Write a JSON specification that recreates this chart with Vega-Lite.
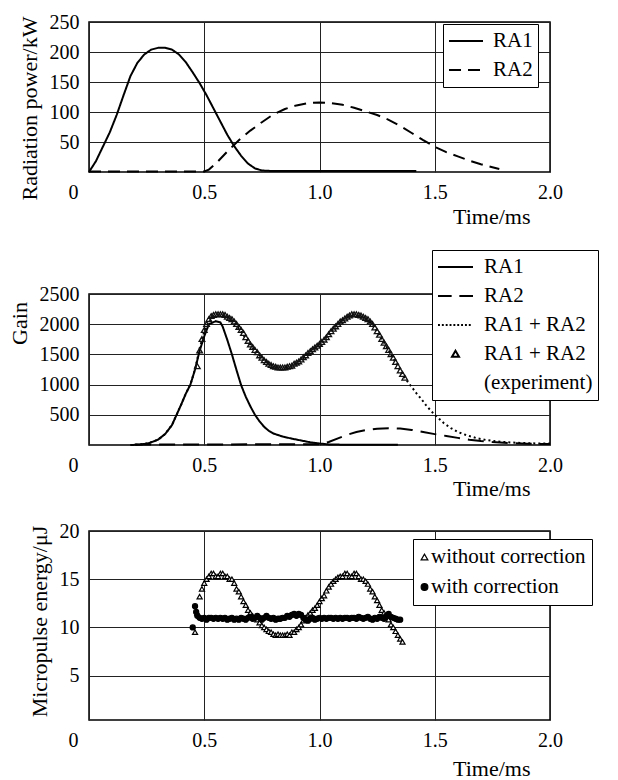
{
  "$schema": "https://vega.github.io/schema/vega-lite/v6.json",
  "padding": {"left": 7, "top": 11, "right": 5, "bottom": 5},
  "spacing": 20,
  "resolve": {
    "scale": {"shape": "independent", "strokeDash": "independent", "fill": "independent", "stroke": "independent"},
    "legend": {"shape": "independent", "strokeDash": "independent", "fill": "independent", "stroke": "independent"}
  },
  "config": {
    "font": "Liberation Serif, DejaVu Serif, serif",
    "view": {"stroke": "black", "strokeWidth": 1.5},
    "axis": {
      "labelFont": "Liberation Serif, DejaVu Serif, serif", "labelFontSize": 20, "labelColor": "black",
      "titleFont": "Liberation Serif, DejaVu Serif, serif", "titleFontSize": 22, "titleFontWeight": "normal", "titleColor": "black",
      "ticks": false, "domain": false, "gridColor": "#222222", "gridWidth": 1, "gridOpacity": 1,
      "labelPadding": 10, "labelFlush": false, "labelOverlap": false
    },
    "legend": {
      "labelFont": "Liberation Serif, DejaVu Serif, serif", "labelFontSize": 21, "labelColor": "black",
      "strokeColor": "black", "fillColor": "white", "title": null
    }
  },
  "datasets": {
    "a_lines": [
      {"t": 0.00, "v": 0, "s": "RA1"}, {"t": 0.03, "v": 18, "s": "RA1"}, {"t": 0.06, "v": 42, "s": "RA1"}, {"t": 0.09, "v": 66, "s": "RA1"},
      {"t": 0.12, "v": 95, "s": "RA1"}, {"t": 0.15, "v": 128, "s": "RA1"}, {"t": 0.18, "v": 160, "s": "RA1"}, {"t": 0.21, "v": 182, "s": "RA1"},
      {"t": 0.24, "v": 196, "s": "RA1"}, {"t": 0.27, "v": 204, "s": "RA1"}, {"t": 0.30, "v": 207, "s": "RA1"}, {"t": 0.33, "v": 207, "s": "RA1"},
      {"t": 0.36, "v": 204, "s": "RA1"}, {"t": 0.39, "v": 196, "s": "RA1"}, {"t": 0.42, "v": 183, "s": "RA1"}, {"t": 0.45, "v": 166, "s": "RA1"},
      {"t": 0.48, "v": 148, "s": "RA1"}, {"t": 0.51, "v": 128, "s": "RA1"}, {"t": 0.54, "v": 106, "s": "RA1"}, {"t": 0.57, "v": 84, "s": "RA1"},
      {"t": 0.60, "v": 62, "s": "RA1"}, {"t": 0.63, "v": 43, "s": "RA1"}, {"t": 0.66, "v": 27, "s": "RA1"}, {"t": 0.69, "v": 14, "s": "RA1"},
      {"t": 0.72, "v": 6, "s": "RA1"}, {"t": 0.75, "v": 2.5, "s": "RA1"}, {"t": 0.80, "v": 1.5, "s": "RA1"}, {"t": 1.00, "v": 1.5, "s": "RA1"},
      {"t": 1.20, "v": 1.5, "s": "RA1"}, {"t": 1.42, "v": 1.5, "s": "RA1"},
      {"t": 0.00, "v": 1, "s": "RA2"}, {"t": 0.50, "v": 1, "s": "RA2"}, {"t": 0.52, "v": 4, "s": "RA2"}, {"t": 0.55, "v": 14, "s": "RA2"},
      {"t": 0.60, "v": 34, "s": "RA2"}, {"t": 0.65, "v": 53, "s": "RA2"}, {"t": 0.70, "v": 69, "s": "RA2"}, {"t": 0.75, "v": 83, "s": "RA2"},
      {"t": 0.80, "v": 96, "s": "RA2"}, {"t": 0.85, "v": 105, "s": "RA2"}, {"t": 0.90, "v": 111, "s": "RA2"}, {"t": 0.95, "v": 115, "s": "RA2"},
      {"t": 1.00, "v": 116, "s": "RA2"}, {"t": 1.05, "v": 115, "s": "RA2"}, {"t": 1.10, "v": 112, "s": "RA2"}, {"t": 1.15, "v": 107, "s": "RA2"},
      {"t": 1.20, "v": 101, "s": "RA2"}, {"t": 1.25, "v": 95, "s": "RA2"}, {"t": 1.30, "v": 87, "s": "RA2"}, {"t": 1.35, "v": 77, "s": "RA2"},
      {"t": 1.40, "v": 65, "s": "RA2"}, {"t": 1.45, "v": 53, "s": "RA2"}, {"t": 1.50, "v": 42, "s": "RA2"}, {"t": 1.55, "v": 33, "s": "RA2"},
      {"t": 1.60, "v": 26, "s": "RA2"}, {"t": 1.65, "v": 19, "s": "RA2"}, {"t": 1.70, "v": 13, "s": "RA2"}, {"t": 1.75, "v": 8, "s": "RA2"},
      {"t": 1.78, "v": 5, "s": "RA2"}
    ],
    "b_lines": [
      {"t": 0.18, "v": 0, "s": "RA1"}, {"t": 0.22, "v": 6, "s": "RA1"}, {"t": 0.26, "v": 30, "s": "RA1"}, {"t": 0.30, "v": 90, "s": "RA1"},
      {"t": 0.33, "v": 180, "s": "RA1"}, {"t": 0.36, "v": 330, "s": "RA1"}, {"t": 0.38, "v": 500, "s": "RA1"}, {"t": 0.40, "v": 670, "s": "RA1"},
      {"t": 0.42, "v": 850, "s": "RA1"}, {"t": 0.44, "v": 1000, "s": "RA1"}, {"t": 0.46, "v": 1250, "s": "RA1"}, {"t": 0.48, "v": 1560, "s": "RA1"},
      {"t": 0.50, "v": 1800, "s": "RA1"}, {"t": 0.52, "v": 2000, "s": "RA1"}, {"t": 0.55, "v": 2050, "s": "RA1"}, {"t": 0.57, "v": 2030, "s": "RA1"},
      {"t": 0.58, "v": 1960, "s": "RA1"}, {"t": 0.60, "v": 1740, "s": "RA1"}, {"t": 0.62, "v": 1500, "s": "RA1"}, {"t": 0.64, "v": 1240, "s": "RA1"},
      {"t": 0.66, "v": 990, "s": "RA1"}, {"t": 0.68, "v": 800, "s": "RA1"}, {"t": 0.70, "v": 640, "s": "RA1"}, {"t": 0.72, "v": 500, "s": "RA1"},
      {"t": 0.74, "v": 390, "s": "RA1"}, {"t": 0.76, "v": 300, "s": "RA1"}, {"t": 0.78, "v": 235, "s": "RA1"}, {"t": 0.80, "v": 190, "s": "RA1"},
      {"t": 0.84, "v": 140, "s": "RA1"}, {"t": 0.88, "v": 105, "s": "RA1"}, {"t": 0.92, "v": 75, "s": "RA1"}, {"t": 0.96, "v": 45, "s": "RA1"},
      {"t": 1.00, "v": 25, "s": "RA1"}, {"t": 1.04, "v": 10, "s": "RA1"}, {"t": 1.10, "v": 5, "s": "RA1"}, {"t": 1.34, "v": 4, "s": "RA1"},
      {"t": 0.20, "v": 10, "s": "RA2"}, {"t": 0.60, "v": 10, "s": "RA2"}, {"t": 1.00, "v": 12, "s": "RA2"}, {"t": 1.04, "v": 50, "s": "RA2"},
      {"t": 1.08, "v": 110, "s": "RA2"}, {"t": 1.12, "v": 170, "s": "RA2"}, {"t": 1.16, "v": 215, "s": "RA2"}, {"t": 1.20, "v": 245, "s": "RA2"},
      {"t": 1.25, "v": 268, "s": "RA2"}, {"t": 1.30, "v": 278, "s": "RA2"}, {"t": 1.35, "v": 272, "s": "RA2"}, {"t": 1.40, "v": 250, "s": "RA2"},
      {"t": 1.45, "v": 215, "s": "RA2"}, {"t": 1.50, "v": 180, "s": "RA2"}, {"t": 1.55, "v": 150, "s": "RA2"}, {"t": 1.60, "v": 118, "s": "RA2"},
      {"t": 1.65, "v": 88, "s": "RA2"}, {"t": 1.70, "v": 65, "s": "RA2"}, {"t": 1.75, "v": 48, "s": "RA2"}, {"t": 1.80, "v": 36, "s": "RA2"},
      {"t": 1.85, "v": 28, "s": "RA2"}, {"t": 1.90, "v": 22, "s": "RA2"}, {"t": 1.95, "v": 18, "s": "RA2"}, {"t": 2.00, "v": 16, "s": "RA2"},
      {"t": 0.18, "v": 0, "s": "RA1 + RA2"}, {"t": 0.22, "v": 6, "s": "RA1 + RA2"}, {"t": 0.26, "v": 30, "s": "RA1 + RA2"}, {"t": 0.30, "v": 90, "s": "RA1 + RA2"},
      {"t": 0.33, "v": 180, "s": "RA1 + RA2"}, {"t": 0.36, "v": 330, "s": "RA1 + RA2"}, {"t": 0.38, "v": 500, "s": "RA1 + RA2"}, {"t": 0.40, "v": 670, "s": "RA1 + RA2"},
      {"t": 0.42, "v": 850, "s": "RA1 + RA2"}, {"t": 0.44, "v": 1000, "s": "RA1 + RA2"}, {"t": 0.46, "v": 1250, "s": "RA1 + RA2"}, {"t": 0.48, "v": 1600, "s": "RA1 + RA2"},
      {"t": 0.50, "v": 1880, "s": "RA1 + RA2"}, {"t": 0.52, "v": 2050, "s": "RA1 + RA2"}, {"t": 0.55, "v": 2140, "s": "RA1 + RA2"}, {"t": 0.58, "v": 2150, "s": "RA1 + RA2"},
      {"t": 0.61, "v": 2100, "s": "RA1 + RA2"}, {"t": 0.64, "v": 1980, "s": "RA1 + RA2"}, {"t": 0.67, "v": 1820, "s": "RA1 + RA2"}, {"t": 0.70, "v": 1660, "s": "RA1 + RA2"},
      {"t": 0.73, "v": 1520, "s": "RA1 + RA2"}, {"t": 0.76, "v": 1410, "s": "RA1 + RA2"}, {"t": 0.79, "v": 1330, "s": "RA1 + RA2"}, {"t": 0.82, "v": 1290, "s": "RA1 + RA2"},
      {"t": 0.85, "v": 1285, "s": "RA1 + RA2"}, {"t": 0.88, "v": 1310, "s": "RA1 + RA2"}, {"t": 0.91, "v": 1380, "s": "RA1 + RA2"}, {"t": 0.94, "v": 1470, "s": "RA1 + RA2"},
      {"t": 0.97, "v": 1570, "s": "RA1 + RA2"}, {"t": 1.00, "v": 1670, "s": "RA1 + RA2"}, {"t": 1.03, "v": 1780, "s": "RA1 + RA2"}, {"t": 1.06, "v": 1920, "s": "RA1 + RA2"},
      {"t": 1.09, "v": 2040, "s": "RA1 + RA2"}, {"t": 1.12, "v": 2120, "s": "RA1 + RA2"}, {"t": 1.15, "v": 2150, "s": "RA1 + RA2"}, {"t": 1.18, "v": 2130, "s": "RA1 + RA2"},
      {"t": 1.21, "v": 2070, "s": "RA1 + RA2"}, {"t": 1.24, "v": 1940, "s": "RA1 + RA2"}, {"t": 1.27, "v": 1760, "s": "RA1 + RA2"}, {"t": 1.30, "v": 1570, "s": "RA1 + RA2"},
      {"t": 1.33, "v": 1370, "s": "RA1 + RA2"}, {"t": 1.36, "v": 1170, "s": "RA1 + RA2"}, {"t": 1.38, "v": 1060, "s": "RA1 + RA2"}, {"t": 1.40, "v": 960, "s": "RA1 + RA2"},
      {"t": 1.42, "v": 860, "s": "RA1 + RA2"}, {"t": 1.44, "v": 770, "s": "RA1 + RA2"}, {"t": 1.46, "v": 670, "s": "RA1 + RA2"}, {"t": 1.48, "v": 580, "s": "RA1 + RA2"},
      {"t": 1.50, "v": 500, "s": "RA1 + RA2"}, {"t": 1.52, "v": 430, "s": "RA1 + RA2"}, {"t": 1.54, "v": 360, "s": "RA1 + RA2"}, {"t": 1.57, "v": 280, "s": "RA1 + RA2"},
      {"t": 1.60, "v": 215, "s": "RA1 + RA2"}, {"t": 1.64, "v": 160, "s": "RA1 + RA2"}, {"t": 1.68, "v": 115, "s": "RA1 + RA2"}, {"t": 1.72, "v": 85, "s": "RA1 + RA2"},
      {"t": 1.76, "v": 65, "s": "RA1 + RA2"}, {"t": 1.80, "v": 50, "s": "RA1 + RA2"}, {"t": 1.85, "v": 38, "s": "RA1 + RA2"}, {"t": 1.90, "v": 30, "s": "RA1 + RA2"},
      {"t": 1.95, "v": 25, "s": "RA1 + RA2"}, {"t": 2.00, "v": 25, "s": "RA1 + RA2"}
    ],
    "b_exp": [
      {"t": 0.47, "v": 1300}, {"t": 0.48, "v": 1560}, {"t": 0.49, "v": 1750}, {"t": 0.50, "v": 1900}, {"t": 0.51, "v": 2000},
      {"t": 0.52, "v": 2080}, {"t": 0.53, "v": 2130}, {"t": 0.54, "v": 2150}, {"t": 0.55, "v": 2160}, {"t": 0.56, "v": 2160},
      {"t": 0.57, "v": 2160}, {"t": 0.58, "v": 2160}, {"t": 0.59, "v": 2150}, {"t": 0.60, "v": 2120}, {"t": 0.61, "v": 2100},
      {"t": 0.62, "v": 2080}, {"t": 0.63, "v": 2040}, {"t": 0.64, "v": 2000}, {"t": 0.65, "v": 1950}, {"t": 0.66, "v": 1900},
      {"t": 0.67, "v": 1850}, {"t": 0.68, "v": 1780}, {"t": 0.69, "v": 1720}, {"t": 0.70, "v": 1660}, {"t": 0.71, "v": 1620},
      {"t": 0.72, "v": 1570}, {"t": 0.73, "v": 1530}, {"t": 0.74, "v": 1480}, {"t": 0.75, "v": 1440}, {"t": 0.76, "v": 1400},
      {"t": 0.77, "v": 1370}, {"t": 0.78, "v": 1340}, {"t": 0.79, "v": 1320}, {"t": 0.80, "v": 1300}, {"t": 0.81, "v": 1290},
      {"t": 0.82, "v": 1280}, {"t": 0.83, "v": 1280}, {"t": 0.84, "v": 1280}, {"t": 0.85, "v": 1280}, {"t": 0.86, "v": 1290},
      {"t": 0.87, "v": 1300}, {"t": 0.88, "v": 1310}, {"t": 0.89, "v": 1340}, {"t": 0.90, "v": 1360}, {"t": 0.91, "v": 1380},
      {"t": 0.92, "v": 1410}, {"t": 0.93, "v": 1450}, {"t": 0.94, "v": 1480}, {"t": 0.95, "v": 1520}, {"t": 0.96, "v": 1550},
      {"t": 0.97, "v": 1580}, {"t": 0.98, "v": 1610}, {"t": 0.99, "v": 1640}, {"t": 1.00, "v": 1670}, {"t": 1.01, "v": 1700},
      {"t": 1.02, "v": 1740}, {"t": 1.03, "v": 1780}, {"t": 1.04, "v": 1830}, {"t": 1.05, "v": 1880}, {"t": 1.06, "v": 1920},
      {"t": 1.07, "v": 1960}, {"t": 1.08, "v": 2000}, {"t": 1.09, "v": 2040}, {"t": 1.10, "v": 2060}, {"t": 1.11, "v": 2090},
      {"t": 1.12, "v": 2120}, {"t": 1.13, "v": 2140}, {"t": 1.14, "v": 2160}, {"t": 1.15, "v": 2160}, {"t": 1.16, "v": 2160},
      {"t": 1.17, "v": 2150}, {"t": 1.18, "v": 2140}, {"t": 1.19, "v": 2120}, {"t": 1.20, "v": 2100}, {"t": 1.21, "v": 2080},
      {"t": 1.22, "v": 2040}, {"t": 1.23, "v": 2000}, {"t": 1.24, "v": 1940}, {"t": 1.25, "v": 1880}, {"t": 1.26, "v": 1820},
      {"t": 1.27, "v": 1750}, {"t": 1.28, "v": 1690}, {"t": 1.29, "v": 1630}, {"t": 1.30, "v": 1570}, {"t": 1.31, "v": 1500},
      {"t": 1.32, "v": 1440}, {"t": 1.33, "v": 1370}, {"t": 1.34, "v": 1300}, {"t": 1.35, "v": 1230}, {"t": 1.36, "v": 1170},
      {"t": 1.37, "v": 1110}
    ],
    "c_pts": [
      {"t": 0.46, "v": 9.5, "s": "without correction"}, {"t": 0.47, "v": 11.5, "s": "without correction"}, {"t": 0.48, "v": 13.2, "s": "without correction"},
      {"t": 0.49, "v": 14.0, "s": "without correction"}, {"t": 0.50, "v": 14.6, "s": "without correction"}, {"t": 0.51, "v": 15.0, "s": "without correction"},
      {"t": 0.52, "v": 15.3, "s": "without correction"}, {"t": 0.53, "v": 15.6, "s": "without correction"}, {"t": 0.54, "v": 15.6, "s": "without correction"},
      {"t": 0.55, "v": 15.3, "s": "without correction"}, {"t": 0.56, "v": 15.3, "s": "without correction"}, {"t": 0.57, "v": 15.6, "s": "without correction"},
      {"t": 0.58, "v": 15.6, "s": "without correction"}, {"t": 0.59, "v": 15.3, "s": "without correction"}, {"t": 0.60, "v": 15.3, "s": "without correction"},
      {"t": 0.61, "v": 15.0, "s": "without correction"}, {"t": 0.62, "v": 15.0, "s": "without correction"}, {"t": 0.63, "v": 14.6, "s": "without correction"},
      {"t": 0.64, "v": 14.0, "s": "without correction"}, {"t": 0.65, "v": 13.7, "s": "without correction"}, {"t": 0.66, "v": 13.2, "s": "without correction"},
      {"t": 0.67, "v": 12.7, "s": "without correction"}, {"t": 0.68, "v": 12.3, "s": "without correction"}, {"t": 0.69, "v": 11.8, "s": "without correction"},
      {"t": 0.70, "v": 11.5, "s": "without correction"}, {"t": 0.71, "v": 11.2, "s": "without correction"}, {"t": 0.72, "v": 11.0, "s": "without correction"},
      {"t": 0.73, "v": 10.8, "s": "without correction"}, {"t": 0.74, "v": 10.5, "s": "without correction"}, {"t": 0.75, "v": 10.2, "s": "without correction"},
      {"t": 0.76, "v": 10.0, "s": "without correction"}, {"t": 0.77, "v": 9.8, "s": "without correction"}, {"t": 0.78, "v": 9.6, "s": "without correction"},
      {"t": 0.79, "v": 9.5, "s": "without correction"}, {"t": 0.80, "v": 9.3, "s": "without correction"}, {"t": 0.81, "v": 9.2, "s": "without correction"},
      {"t": 0.82, "v": 9.3, "s": "without correction"}, {"t": 0.83, "v": 9.2, "s": "without correction"}, {"t": 0.84, "v": 9.2, "s": "without correction"},
      {"t": 0.85, "v": 9.2, "s": "without correction"}, {"t": 0.86, "v": 9.3, "s": "without correction"}, {"t": 0.87, "v": 9.2, "s": "without correction"},
      {"t": 0.88, "v": 9.5, "s": "without correction"}, {"t": 0.89, "v": 9.5, "s": "without correction"}, {"t": 0.90, "v": 9.8, "s": "without correction"},
      {"t": 0.91, "v": 10.0, "s": "without correction"}, {"t": 0.92, "v": 10.3, "s": "without correction"}, {"t": 0.93, "v": 10.7, "s": "without correction"},
      {"t": 0.94, "v": 11.0, "s": "without correction"}, {"t": 0.95, "v": 11.3, "s": "without correction"}, {"t": 0.96, "v": 11.5, "s": "without correction"},
      {"t": 0.97, "v": 11.8, "s": "without correction"}, {"t": 0.98, "v": 12.0, "s": "without correction"}, {"t": 0.99, "v": 12.3, "s": "without correction"},
      {"t": 1.00, "v": 12.7, "s": "without correction"}, {"t": 1.01, "v": 13.0, "s": "without correction"}, {"t": 1.02, "v": 13.3, "s": "without correction"},
      {"t": 1.03, "v": 13.8, "s": "without correction"}, {"t": 1.04, "v": 14.2, "s": "without correction"}, {"t": 1.05, "v": 14.5, "s": "without correction"},
      {"t": 1.06, "v": 14.8, "s": "without correction"}, {"t": 1.07, "v": 15.0, "s": "without correction"}, {"t": 1.08, "v": 15.2, "s": "without correction"},
      {"t": 1.09, "v": 15.3, "s": "without correction"}, {"t": 1.10, "v": 15.3, "s": "without correction"}, {"t": 1.11, "v": 15.6, "s": "without correction"},
      {"t": 1.12, "v": 15.6, "s": "without correction"}, {"t": 1.13, "v": 15.3, "s": "without correction"}, {"t": 1.14, "v": 15.3, "s": "without correction"},
      {"t": 1.15, "v": 15.6, "s": "without correction"}, {"t": 1.16, "v": 15.6, "s": "without correction"}, {"t": 1.17, "v": 15.3, "s": "without correction"},
      {"t": 1.18, "v": 15.0, "s": "without correction"}, {"t": 1.19, "v": 15.0, "s": "without correction"}, {"t": 1.20, "v": 14.8, "s": "without correction"},
      {"t": 1.21, "v": 14.5, "s": "without correction"}, {"t": 1.22, "v": 14.0, "s": "without correction"}, {"t": 1.23, "v": 13.7, "s": "without correction"},
      {"t": 1.24, "v": 13.2, "s": "without correction"}, {"t": 1.25, "v": 12.8, "s": "without correction"}, {"t": 1.26, "v": 12.3, "s": "without correction"},
      {"t": 1.27, "v": 11.8, "s": "without correction"}, {"t": 1.28, "v": 11.5, "s": "without correction"}, {"t": 1.29, "v": 11.2, "s": "without correction"},
      {"t": 1.30, "v": 10.8, "s": "without correction"}, {"t": 1.31, "v": 10.3, "s": "without correction"}, {"t": 1.32, "v": 10.0, "s": "without correction"},
      {"t": 1.33, "v": 9.6, "s": "without correction"}, {"t": 1.34, "v": 9.2, "s": "without correction"}, {"t": 1.35, "v": 8.8, "s": "without correction"},
      {"t": 1.36, "v": 8.5, "s": "without correction"},
      {"t": 0.45, "v": 10.0, "s": "with correction"}, {"t": 0.46, "v": 12.2, "s": "with correction"}, {"t": 0.465, "v": 11.6, "s": "with correction"},
      {"t": 0.47, "v": 11.2, "s": "with correction"}, {"t": 0.48, "v": 11.0, "s": "with correction"}, {"t": 0.49, "v": 10.9, "s": "with correction"},
      {"t": 0.50, "v": 11.0, "s": "with correction"}, {"t": 0.51, "v": 10.8, "s": "with correction"}, {"t": 0.52, "v": 11.0, "s": "with correction"},
      {"t": 0.53, "v": 11.0, "s": "with correction"}, {"t": 0.54, "v": 10.9, "s": "with correction"}, {"t": 0.55, "v": 11.0, "s": "with correction"},
      {"t": 0.56, "v": 10.9, "s": "with correction"}, {"t": 0.57, "v": 11.0, "s": "with correction"}, {"t": 0.58, "v": 10.9, "s": "with correction"},
      {"t": 0.59, "v": 11.0, "s": "with correction"}, {"t": 0.60, "v": 10.8, "s": "with correction"}, {"t": 0.61, "v": 10.9, "s": "with correction"},
      {"t": 0.62, "v": 11.0, "s": "with correction"}, {"t": 0.63, "v": 10.8, "s": "with correction"}, {"t": 0.64, "v": 10.9, "s": "with correction"},
      {"t": 0.65, "v": 10.8, "s": "with correction"}, {"t": 0.66, "v": 11.0, "s": "with correction"}, {"t": 0.67, "v": 10.9, "s": "with correction"},
      {"t": 0.68, "v": 10.8, "s": "with correction"}, {"t": 0.69, "v": 11.0, "s": "with correction"}, {"t": 0.70, "v": 11.1, "s": "with correction"},
      {"t": 0.71, "v": 10.9, "s": "with correction"}, {"t": 0.72, "v": 11.0, "s": "with correction"}, {"t": 0.73, "v": 11.2, "s": "with correction"},
      {"t": 0.74, "v": 11.0, "s": "with correction"}, {"t": 0.75, "v": 10.8, "s": "with correction"}, {"t": 0.76, "v": 11.0, "s": "with correction"},
      {"t": 0.77, "v": 11.2, "s": "with correction"}, {"t": 0.78, "v": 11.0, "s": "with correction"}, {"t": 0.79, "v": 10.9, "s": "with correction"},
      {"t": 0.80, "v": 11.0, "s": "with correction"}, {"t": 0.81, "v": 10.8, "s": "with correction"}, {"t": 0.82, "v": 10.9, "s": "with correction"},
      {"t": 0.83, "v": 10.9, "s": "with correction"}, {"t": 0.84, "v": 11.0, "s": "with correction"}, {"t": 0.85, "v": 11.0, "s": "with correction"},
      {"t": 0.86, "v": 11.2, "s": "with correction"}, {"t": 0.87, "v": 11.1, "s": "with correction"}, {"t": 0.88, "v": 11.3, "s": "with correction"},
      {"t": 0.89, "v": 11.4, "s": "with correction"}, {"t": 0.90, "v": 11.2, "s": "with correction"}, {"t": 0.91, "v": 11.4, "s": "with correction"},
      {"t": 0.92, "v": 11.3, "s": "with correction"}, {"t": 0.93, "v": 11.0, "s": "with correction"}, {"t": 0.94, "v": 10.8, "s": "with correction"},
      {"t": 0.95, "v": 10.7, "s": "with correction"}, {"t": 0.96, "v": 10.9, "s": "with correction"}, {"t": 0.97, "v": 11.0, "s": "with correction"},
      {"t": 0.98, "v": 10.8, "s": "with correction"}, {"t": 0.99, "v": 10.9, "s": "with correction"}, {"t": 1.00, "v": 11.0, "s": "with correction"},
      {"t": 1.01, "v": 10.9, "s": "with correction"}, {"t": 1.02, "v": 11.0, "s": "with correction"}, {"t": 1.03, "v": 10.9, "s": "with correction"},
      {"t": 1.04, "v": 11.0, "s": "with correction"}, {"t": 1.05, "v": 11.0, "s": "with correction"}, {"t": 1.06, "v": 10.9, "s": "with correction"},
      {"t": 1.07, "v": 11.0, "s": "with correction"}, {"t": 1.08, "v": 10.9, "s": "with correction"}, {"t": 1.09, "v": 11.0, "s": "with correction"},
      {"t": 1.10, "v": 10.9, "s": "with correction"}, {"t": 1.11, "v": 11.0, "s": "with correction"}, {"t": 1.12, "v": 11.0, "s": "with correction"},
      {"t": 1.13, "v": 10.9, "s": "with correction"}, {"t": 1.14, "v": 11.0, "s": "with correction"}, {"t": 1.15, "v": 11.0, "s": "with correction"},
      {"t": 1.16, "v": 10.9, "s": "with correction"}, {"t": 1.17, "v": 11.1, "s": "with correction"}, {"t": 1.18, "v": 11.0, "s": "with correction"},
      {"t": 1.19, "v": 10.9, "s": "with correction"}, {"t": 1.20, "v": 11.0, "s": "with correction"}, {"t": 1.21, "v": 11.1, "s": "with correction"},
      {"t": 1.22, "v": 10.9, "s": "with correction"}, {"t": 1.23, "v": 10.8, "s": "with correction"}, {"t": 1.24, "v": 11.0, "s": "with correction"},
      {"t": 1.25, "v": 10.9, "s": "with correction"}, {"t": 1.26, "v": 11.1, "s": "with correction"}, {"t": 1.27, "v": 11.0, "s": "with correction"},
      {"t": 1.28, "v": 10.9, "s": "with correction"}, {"t": 1.29, "v": 11.2, "s": "with correction"}, {"t": 1.30, "v": 11.4, "s": "with correction"},
      {"t": 1.31, "v": 11.1, "s": "with correction"}, {"t": 1.32, "v": 11.0, "s": "with correction"}, {"t": 1.33, "v": 10.9, "s": "with correction"},
      {"t": 1.34, "v": 10.8, "s": "with correction"}, {"t": 1.35, "v": 10.8, "s": "with correction"}
    ]
  },
  "vconcat": [
    {
      "width": 461, "height": 150,
      "layer": [
        {
          "data": {"name": "a_lines"},
          "mark": {"type": "line", "color": "black", "strokeWidth": 2},
          "encoding": {
            "x": {"field": "t", "type": "quantitative", "scale": {"domain": [0, 2], "nice": false, "zero": false},
              "axis": {"values": [0, 0.5, 1, 1.5, 2], "labelExpr": "datum.value == 0 ? '0' : format(datum.value, '.1f')", "labelOverlap": false,
                "labelOffset": {"condition": {"test": "datum.value == 0", "value": -16}, "value": 0},
                "title": "Time/ms", "titleX": 441, "titleY": 44, "titleAlign": "right", "titleBaseline": "middle", "titleAngle": 0}},
            "y": {"field": "v", "type": "quantitative", "scale": {"domain": [0, 250], "nice": false, "zero": false},
              "axis": {"values": [50, 100, 150, 200, 250], "format": "d", "labelOverlap": false, "title": "Radiation power/kW", "titleY": 86, "titlePadding": 8}},
            "strokeDash": {"field": "s", "type": "nominal",
              "scale": {"domain": ["RA1", "RA2"], "range": [[1, 0], [12, 7]]},
              "legend": {"orient": "none", "legendX": 354, "legendY": 2, "symbolType": "stroke", "symbolSize": 1156,
                "symbolStrokeWidth": 2, "symbolStrokeColor": "black", "labelOffset": 9, "padding": 5, "rowPadding": 5, "clipHeight": 24}}
          }
        },
        {
          "mark": {"type": "text", "align": "left", "baseline": "alphabetic", "fontSize": 21, "font": "Liberation Serif, DejaVu Serif, serif", "color": "black"},
          "encoding": {
            "x": {"datum": 0.033, "type": "quantitative", "scale": {"domain": [0, 2], "nice": false, "zero": false},
              "axis": {"values": [0, 0.5, 1, 1.5, 2], "labelExpr": "datum.value == 0 ? '0' : format(datum.value, '.1f')", "labelOverlap": false,
                "labelOffset": {"condition": {"test": "datum.value == 0", "value": -16}, "value": 0},
                "title": "Time/ms", "titleX": 441, "titleY": 44, "titleAlign": "right", "titleBaseline": "middle", "titleAngle": 0}},
            "y": {"datum": 217, "type": "quantitative", "scale": {"domain": [0, 250], "nice": false, "zero": false},
              "axis": {"values": [50, 100, 150, 200, 250], "format": "d", "labelOverlap": false, "title": "Radiation power/kW", "titleY": 86, "titlePadding": 8}},
            "text": {"value": "a"}
          }
        }
      ]
    },
    {
      "width": 461, "height": 151,
      "layer": [
        {
          "data": {"name": "b_lines"},
          "mark": {"type": "line", "color": "black", "strokeWidth": 2},
          "encoding": {
            "x": {"field": "t", "type": "quantitative", "scale": {"domain": [0, 2], "nice": false, "zero": false},
              "axis": {"values": [0, 0.5, 1, 1.5, 2], "labelExpr": "datum.value == 0 ? '0' : format(datum.value, '.1f')", "labelOverlap": false,
                "labelOffset": {"condition": {"test": "datum.value == 0", "value": -16}, "value": 0},
                "title": "Time/ms", "titleX": 441, "titleY": 43, "titleAlign": "right", "titleBaseline": "middle", "titleAngle": 0}},
            "y": {"field": "v", "type": "quantitative", "scale": {"domain": [0, 2500], "nice": false, "zero": false},
              "axis": {"values": [500, 1000, 1500, 2000, 2500], "format": "d", "labelOverlap": false, "title": "Gain", "titleY": 29, "titlePadding": 8}},
            "strokeDash": {"field": "s", "type": "nominal",
              "scale": {"domain": ["RA1", "RA2", "RA1 + RA2"], "range": [[1, 0], [16, 8], [2, 3]]}, "legend": null}
          }
        },
        {
          "data": {"name": "b_exp"},
          "mark": {"type": "point", "filled": false, "stroke": "#111111", "strokeWidth": 1.3, "size": 800, "opacity": 1},
          "encoding": {
            "x": {"field": "t", "type": "quantitative", "scale": {"domain": [0, 2], "nice": false, "zero": false},
              "axis": {"values": [0, 0.5, 1, 1.5, 2], "labelExpr": "datum.value == 0 ? '0' : format(datum.value, '.1f')", "labelOverlap": false,
                "labelOffset": {"condition": {"test": "datum.value == 0", "value": -16}, "value": 0},
                "title": "Time/ms", "titleX": 441, "titleY": 43, "titleAlign": "right", "titleBaseline": "middle", "titleAngle": 0}},
            "y": {"field": "v", "type": "quantitative", "scale": {"domain": [0, 2500], "nice": false, "zero": false},
              "axis": {"values": [500, 1000, 1500, 2000, 2500], "format": "d", "labelOverlap": false, "title": "Gain", "titleY": 29, "titlePadding": 8}},
            "shape": {"datum": "RA1 + RA2 (experiment)", "type": "nominal",
              "scale": {"domain": ["RA1", "RA2", "RA1 + RA2", "RA1 + RA2 (experiment)", "(experiment)"],
                "range": ["M-1,0H1", "M-1,0H-0.22M0.22,0H1",
                  "M-1,0H-0.89M-0.78,0H-0.67M-0.56,0H-0.45M-0.34,0H-0.23M-0.12,0H-0.01M0.1,0H0.21M0.32,0H0.43M0.54,0H0.65M0.76,0H0.87",
                  "M0,-0.19L0.2,0.15L-0.2,0.15Z", "M0,0"]},
              "legend": {"orient": "none", "legendX": 343, "legendY": -44, "symbolSize": 1225, "symbolStrokeWidth": 2,
                "symbolStrokeColor": "black", "symbolFillColor": "transparent", "labelOffset": 10, "padding": 5, "rowPadding": 5, "clipHeight": 24,
                "labelExpr": "datum.label == 'RA1 + RA2 (experiment)' ? 'RA1 + RA2' : datum.label"}}
          }
        },
        {
          "mark": {"type": "text", "align": "left", "baseline": "alphabetic", "fontSize": 21, "font": "Liberation Serif, DejaVu Serif, serif", "color": "black"},
          "encoding": {
            "x": {"datum": 0.035, "type": "quantitative", "scale": {"domain": [0, 2], "nice": false, "zero": false},
              "axis": {"values": [0, 0.5, 1, 1.5, 2], "labelExpr": "datum.value == 0 ? '0' : format(datum.value, '.1f')", "labelOverlap": false,
                "labelOffset": {"condition": {"test": "datum.value == 0", "value": -16}, "value": 0},
                "title": "Time/ms", "titleX": 441, "titleY": 43, "titleAlign": "right", "titleBaseline": "middle", "titleAngle": 0}},
            "y": {"datum": 2152, "type": "quantitative", "scale": {"domain": [0, 2500], "nice": false, "zero": false},
              "axis": {"values": [500, 1000, 1500, 2000, 2500], "format": "d", "labelOverlap": false, "title": "Gain", "titleY": 29, "titlePadding": 8}},
            "text": {"value": "b"}
          }
        }
      ]
    },
    {
      "width": 461, "height": 189,
      "layer": [
        {
          "data": {"name": "c_pts"},
          "mark": {"type": "point", "filled": true, "strokeWidth": 1.2, "size": 26, "opacity": 1},
          "encoding": {
            "x": {"field": "t", "type": "quantitative", "scale": {"domain": [0, 2], "nice": false, "zero": false},
              "axis": {"values": [0, 0.5, 1, 1.5, 2], "labelExpr": "datum.value == 0 ? '0' : format(datum.value, '.1f')", "labelOverlap": false,
                "labelOffset": {"condition": {"test": "datum.value == 0", "value": -16}, "value": 0},
                "title": "Time/ms", "titleX": 441, "titleY": 48, "titleAlign": "right", "titleBaseline": "middle", "titleAngle": 0}},
            "y": {"field": "v", "type": "quantitative", "scale": {"domain": [0.4, 20], "nice": false, "zero": false},
              "axis": {"values": [5, 10, 15, 20], "format": "d", "labelOverlap": false, "title": "Micropulse energy/μJ", "titleY": 90, "titlePadding": 8}},
            "shape": {"field": "s", "type": "nominal",
              "scale": {"domain": ["without correction", "with correction"], "range": ["triangle-up", "circle"]},
              "legend": {"orient": "none", "legendX": 324, "legendY": 8, "symbolSize": 45, "symbolStrokeWidth": 1.2,
                "symbolOffset": -5, "labelOffset": -4, "padding": 6, "rowPadding": 6, "clipHeight": 24}},
            "fill": {"field": "s", "type": "nominal",
              "scale": {"domain": ["without correction", "with correction"], "range": ["white", "black"]},
              "legend": {"orient": "none", "legendX": 324, "legendY": 8, "symbolSize": 45, "symbolStrokeWidth": 1.2,
                "symbolOffset": -5, "labelOffset": -4, "padding": 6, "rowPadding": 6, "clipHeight": 24}},
            "stroke": {"field": "s", "type": "nominal",
              "scale": {"domain": ["without correction", "with correction"], "range": ["black", "black"]},
              "legend": {"orient": "none", "legendX": 324, "legendY": 8, "symbolSize": 45, "symbolStrokeWidth": 1.2,
                "symbolOffset": -5, "labelOffset": -4, "padding": 6, "rowPadding": 6, "clipHeight": 24}}
          }
        },
        {
          "mark": {"type": "text", "align": "left", "baseline": "alphabetic", "fontSize": 21, "font": "Liberation Serif, DejaVu Serif, serif", "color": "black"},
          "encoding": {
            "x": {"datum": 0.035, "type": "quantitative", "scale": {"domain": [0, 2], "nice": false, "zero": false},
              "axis": {"values": [0, 0.5, 1, 1.5, 2], "labelExpr": "datum.value == 0 ? '0' : format(datum.value, '.1f')", "labelOverlap": false,
                "labelOffset": {"condition": {"test": "datum.value == 0", "value": -16}, "value": 0},
                "title": "Time/ms", "titleX": 441, "titleY": 48, "titleAlign": "right", "titleBaseline": "middle", "titleAngle": 0}},
            "y": {"datum": 17.2, "type": "quantitative", "scale": {"domain": [0.4, 20], "nice": false, "zero": false},
              "axis": {"values": [5, 10, 15, 20], "format": "d", "labelOverlap": false, "title": "Micropulse energy/μJ", "titleY": 90, "titlePadding": 8}},
            "text": {"value": "c"}
          }
        }
      ]
    }
  ]
}
